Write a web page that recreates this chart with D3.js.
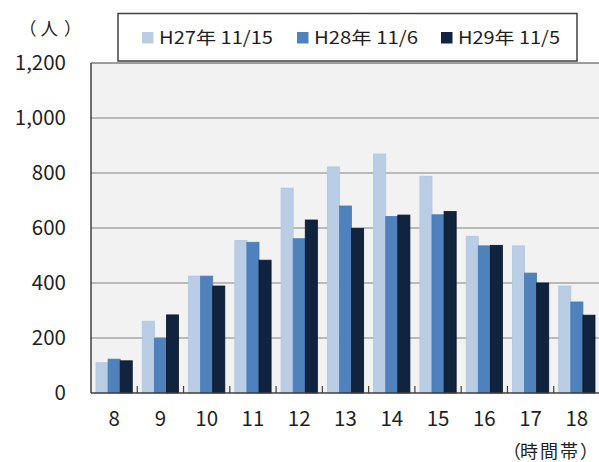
<!DOCTYPE html>
<html><head><meta charset="utf-8">
<script src="https://cdn.jsdelivr.net/npm/d3@7/dist/d3.min.js"></script>
<style>body{margin:0;background:#fff}svg{display:block}</style>
</head><body>
<svg id="c" width="599" height="462"></svg>
<script>
const categories = ["8","9","10","11","12","13","14","15","16","17","18"];
const seriesNames = ["H27年 11/15","H28年 11/6","H29年 11/5"];
const h27 = [110,261,425,555,745,822,869,788,570,535,389];
const h28 = [123,199,425,548,561,680,642,648,535,436,331];
const h29 = [117,284,389,483,629,598,647,660,537,400,283];
const yTicks = [0,200,400,600,800,1000,1200];
const colors = ["#b9cde5","#4f81bd","#10243f"];
const strokes = ["#b0c6e0","#4a7ab3","#0a1628"];

const series = [h27,h28,h29];
const svg = d3.select("#c");
const font = "'Noto Sans CJK JP','Noto Sans',sans-serif";
const L=91, R=600, T=63, B=393;
const x = d3.scaleBand().domain(categories).range([L,R]).padding(0);
const x1 = d3.scaleBand().domain(d3.range(3)).range([5, x.bandwidth()-5]).padding(0);
const y = d3.scaleLinear().domain([0,1200]).range([B,T]);

svg.append("rect").attr("x",L).attr("y",T).attr("width",R-L).attr("height",B-T).attr("fill","#f2f2f2");
svg.append("g").selectAll("line").data(yTicks.filter(d=>d>0)).join("line")
  .attr("x1",L).attr("x2",R).attr("y1",d=>y(d)).attr("y2",d=>y(d))
  .attr("stroke",d=>d===1200?"#7f7f7f":"#a6a6a6").attr("stroke-width",1.5);

const g = svg.append("g");
categories.forEach((c,i)=>{
  series.forEach((s,j)=>{
    g.append("rect")
      .attr("x", x(c)+x1(j)).attr("width", x1.bandwidth())
      .attr("y", y(s[i])).attr("height", y(0)-y(s[i]))
      .attr("fill", colors[j]).attr("stroke", strokes[j]).attr("stroke-width",0.8);
  });
});

svg.append("line").attr("x1",L).attr("x2",L).attr("y1",T).attr("y2",B).attr("stroke","#404040").attr("stroke-width",1.5);
svg.append("line").attr("x1",L).attr("x2",R).attr("y1",B).attr("y2",B).attr("stroke","#404040").attr("stroke-width",1.5);
svg.append("g").selectAll("line").data(categories.slice(1)).join("line")
  .attr("x1",d=>x(d)).attr("x2",d=>x(d)).attr("y1",B).attr("y2",B-7)
  .attr("stroke","#404040").attr("stroke-width",1.2);

svg.append("g").selectAll("text").data(yTicks).join("text")
  .attr("x",66).attr("y",d=>y(d)).attr("dy","0.36em").attr("text-anchor","end")
  .attr("font-family",font).attr("font-size",20.5).attr("fill","#1f1f1f")
  .text(d=>d3.format(",")(d));
svg.append("g").selectAll("text").data(categories).join("text")
  .attr("x",d=>x(d)+x.bandwidth()/2).attr("y",426).attr("text-anchor","middle")
  .attr("font-family",font).attr("font-size",20.5).attr("fill","#1f1f1f")
  .text(d=>d);

svg.append("text").attr("x","19 40.5 64").attr("y",35)
  .attr("font-family",font).attr("font-size",17.5).attr("fill","#1f1f1f")
  .text("（人）");
svg.append("text").attr("x","503 520 540 560 580").attr("y",458)
  .attr("font-family",font).attr("font-size",18).attr("fill","#1f1f1f")
  .text("（時間帯）");

svg.append("rect").attr("x",118).attr("y",13.5).attr("width",459).attr("height",47.5)
  .attr("fill","#fff").attr("stroke","#404040").attr("stroke-width",1.5);
const legX = [142,297,441];
const legW = [114,104,102];
seriesNames.forEach((n,j)=>{
  svg.append("rect").attr("x",legX[j]).attr("y",32).attr("width",11.5).attr("height",11.5).attr("fill",colors[j]);
  svg.append("text").attr("x",legX[j]+17).attr("y",44).attr("font-family",font).attr("font-size",17.5)
    .attr("fill","#1f1f1f").attr("textLength",legW[j]).attr("lengthAdjust","spacingAndGlyphs").text(n);
});
</script>
</body></html>
